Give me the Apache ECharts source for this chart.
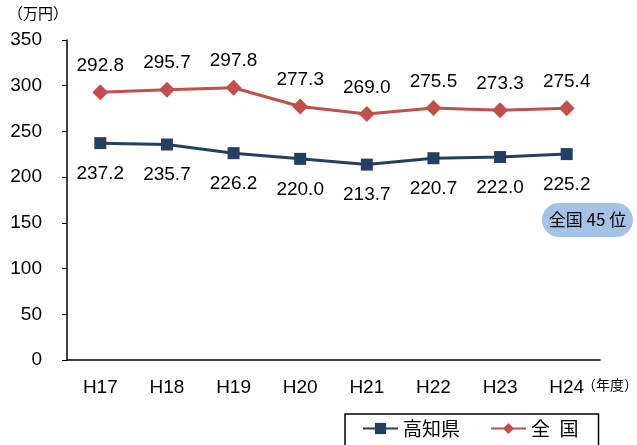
<!DOCTYPE html>
<html>
<head>
<meta charset="utf-8">
<script src="https://cdn.jsdelivr.net/npm/echarts@6/dist/echarts.min.js"></script>
<style>
  html, body { margin: 0; padding: 0; background: #fff; }
  #chart { width: 637px; height: 445px; }
</style>
</head>
<body>
<div id="chart"></div>
<script>
// Fiscal years (Heisei)
const years = ['H17', 'H18', 'H19', 'H20', 'H21', 'H22', 'H23', 'H24'];
// Income per person, 10,000 yen
const kochi = [237.2, 235.7, 226.2, 220.0, 213.7, 220.7, 222.0, 225.2];
const national = [292.8, 295.7, 297.8, 277.3, 269.0, 275.5, 273.3, 275.4];
const yTicks = { min: 0, max: 350, interval: 50 };

const FONT = '"Liberation Sans", Arial, "Noto Sans CJK JP", sans-serif';
const JP = '"Noto Sans CJK JP", sans-serif';
const NAVY = '#243F60';
const RED = '#C0504D';

const chart = echarts.init(document.getElementById('chart'));
chart.setOption({
  animation: false,
  textStyle: { fontFamily: FONT },
  grid: { left: 67, right: 37, top: 40, bottom: 85 },
  xAxis: {
    type: 'category',
    data: years,
    boundaryGap: true,
    axisLine: { lineStyle: { color: '#000', width: 1.5 } },
    axisTick: { inside: true, length: 6, lineStyle: { color: '#000' } },
    axisLabel: { color: '#000', fontSize: 19, margin: 18, fontFamily: FONT }
  },
  yAxis: {
    type: 'value',
    min: yTicks.min, max: yTicks.max, interval: yTicks.interval,
    axisLine: { show: true, lineStyle: { color: '#000', width: 1.5 } },
    axisTick: { show: true, length: 5, lineStyle: { color: '#000' } },
    splitLine: { show: false },
    axisLabel: { color: '#000', fontSize: 19, margin: 25, fontFamily: FONT }
  },
  legend: {
    top: 414,
    left: 345,
    itemWidth: 35,
    itemHeight: 14,
    itemGap: 30,
    padding: [5, 20, 14, 17],
    borderColor: '#000',
    borderWidth: 1.5,
    textStyle: { fontSize: 19, color: '#000', fontFamily: JP },
    data: ['高知県', '全\u2002国']
  },
  series: [
    {
      name: '高知県',
      type: 'line',
      data: kochi,
      symbol: 'rect',
      symbolSize: 12,
      itemStyle: { color: NAVY },
      lineStyle: { color: NAVY, width: 3 },
      label: {
        show: true, position: 'bottom', distance: 15,
        color: '#000', fontSize: 19, fontFamily: FONT,
        formatter: p => p.value.toFixed(1)
      }
    },
    {
      name: '全\u2002国',
      type: 'line',
      data: national,
      symbol: 'diamond',
      symbolSize: 16,
      itemStyle: { color: RED },
      lineStyle: { color: RED, width: 3 },
      label: {
        show: true, position: 'top', distance: 9,
        color: '#000', fontSize: 19, fontFamily: FONT,
        formatter: p => p.value.toFixed(1)
      }
    }
  ],
  graphic: [
    {
      type: 'text', left: 8, top: 6,
      style: { text: '（万円）', fontSize: 15, fill: '#000', fontFamily: JP }
    },
    {
      type: 'text', left: 582, top: 378,
      style: { text: '（年度）', fontSize: 14, fill: '#000', fontFamily: JP }
    },
    {
      type: 'group', left: 542, top: 203,
      children: [
        { type: 'rect', shape: { x: 0, y: 0, width: 91, height: 34, r: 17 }, style: { fill: '#A4C2E4' } },
        {
          type: 'text', x: 45.5, y: 17,
          style: { text: '全国 45 位', fontSize: 17, fill: '#000', align: 'center', verticalAlign: 'middle',
                   fontFamily: JP }
        }
      ]
    }
  ]
});
</script>
</body>
</html>
